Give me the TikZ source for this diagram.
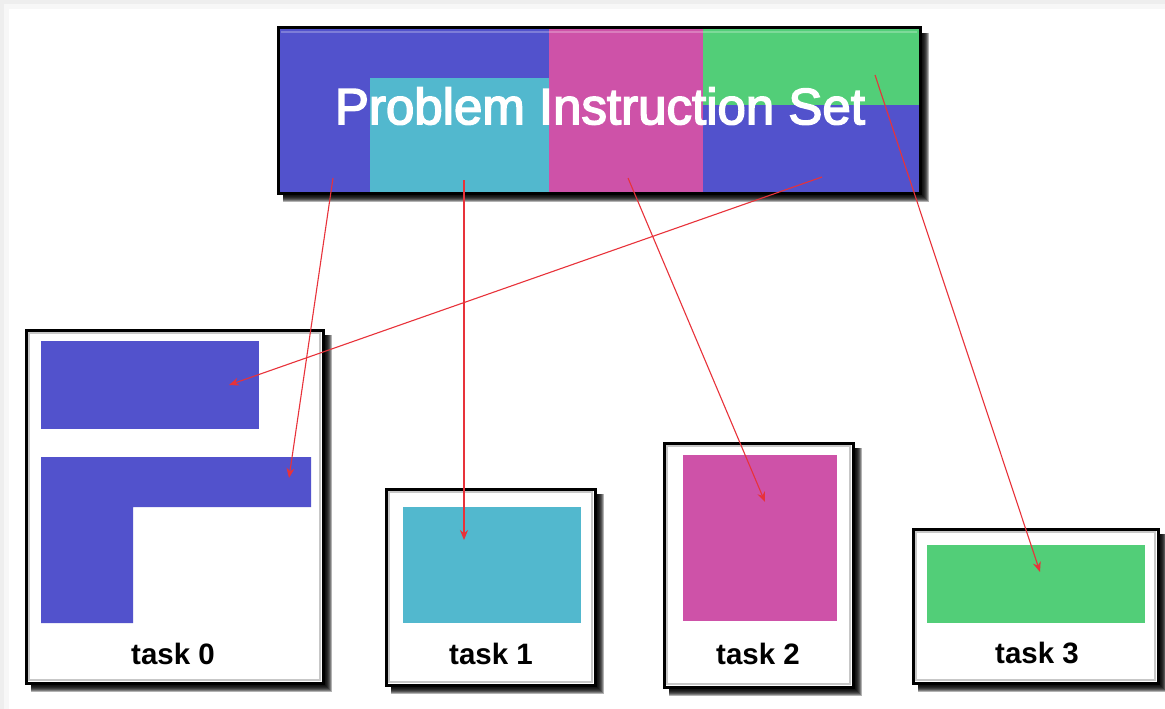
\documentclass[tikz,border=0pt]{standalone}
\usepackage{fontspec}
\setmainfont{Liberation Sans}
\newfontfamily\titlefont[FakeBold=3]{Liberation Sans}
\usetikzlibrary{arrows.meta}
\definecolor{cblue}{RGB}{82,82,204}
\definecolor{ccyan}{RGB}{82,184,206}
\definecolor{cmag}{RGB}{206,82,168}
\definecolor{cgreen}{RGB}{82,206,120}
\definecolor{carrow}{RGB}{232,50,58}
\definecolor{cbg}{RGB}{238,238,238}
\tikzset{
  arr/.style={draw=carrow,line width=1.1pt,-{Stealth[length=10pt,width=8pt]}},
  tasklabel/.style={font=\bfseries\fontsize{29.5}{29.5}\selectfont,text=black,inner sep=0pt},
  titlelabel/.style={font=\titlefont\fontsize{51}{51}\selectfont,text=white,inner sep=0pt},
  framebox/.style={draw=black,line width=3pt,fill=white},
  bevel/.style={draw=black!22,line width=1.4pt},
}
\newcommand{\shadowbox}[4]{%
  \foreach \k in {2,3,4,5,6,7,8,9}{%
    \fill[black,opacity=0.3] (#1+5,#2+5) rectangle (#3+\k,#4+\k);
  }%
}
\begin{document}
\begin{tikzpicture}[x=1pt,y=-1pt]
\useasboundingbox (0,0) rectangle (1165,709);
% page background
\fill[cbg] (0,0) rectangle (1165,709);
\fill[black!3] (4,4) rectangle (1165,709);
\fill[white] (9,9) rectangle (1165,709);

% ---------- top box ----------
\shadowbox{278}{28}{920}{193}
\fill[cblue] (278,28) rectangle (920,193);
\fill[ccyan] (370,78) rectangle (549,193);
\fill[cmag] (549,28) rectangle (703,193);
\fill[cgreen] (703,28) rectangle (920,105);
\draw[white,opacity=0.25,line width=2pt] (281,32) -- (917,32);
\draw[black,line width=3pt] (278,28) rectangle (920,193);
\node[titlelabel] (title) at (600,106) {Problem Instruction Set};

% ---------- task 0 ----------
\shadowbox{26}{330}{323}{683}
\draw[framebox] (26,330) rectangle (323,683);
\draw[bevel] (29,333) rectangle (320,680);
\fill[cblue] (41,341) rectangle (259,429);
\fill[cblue] (41,457) -- (311,457) -- (311,507) -- (133,507) -- (133,623) -- (41,623) -- cycle;
\node[tasklabel] (t0) at (173,654) {task 0};

% ---------- task 1 ----------
\shadowbox{386}{489}{595}{685}
\draw[framebox] (386,489) rectangle (595,685);
\draw[bevel] (389,492) rectangle (592,682);
\fill[ccyan] (403,507) rectangle (581,623);
\node[tasklabel] (t1) at (491,654) {task 1};

% ---------- task 2 ----------
\shadowbox{664}{443}{853}{687}
\draw[framebox] (664,443) rectangle (853,687);
\draw[bevel] (667,446) rectangle (850,684);
\fill[cmag] (683,455) rectangle (837,621);
\node[tasklabel] (t2) at (758,654) {task 2};

% ---------- task 3 ----------
\shadowbox{913}{529}{1158}{683}
\draw[framebox] (913,529) rectangle (1158,683);
\draw[bevel] (916,532) rectangle (1155,680);
\fill[cgreen] (927,545) rectangle (1145,623);
\node[tasklabel] (t3) at (1037,653) {task 3};

% ---------- arrow end points ----------
\coordinate (sA) at (333,178);
\coordinate (sB) at (464,180);
\coordinate (sC) at (628,178);
\coordinate (sD) at (822,177);
\coordinate (sE) at (875,75);
\coordinate (eA) at (289,478);
\coordinate (eB) at (464,540);
\coordinate (eC) at (765,502);
\coordinate (eD) at (229,385);
\coordinate (eE) at (1040,572);

\draw[arr] (sA) -- (eA);
\draw[arr] (sB) -- (eB);
\draw[arr] (sC) -- (eC);
\draw[arr] (sD) -- (eD);
\draw[arr] (sE) -- (eE);
\end{tikzpicture}
\end{document}
